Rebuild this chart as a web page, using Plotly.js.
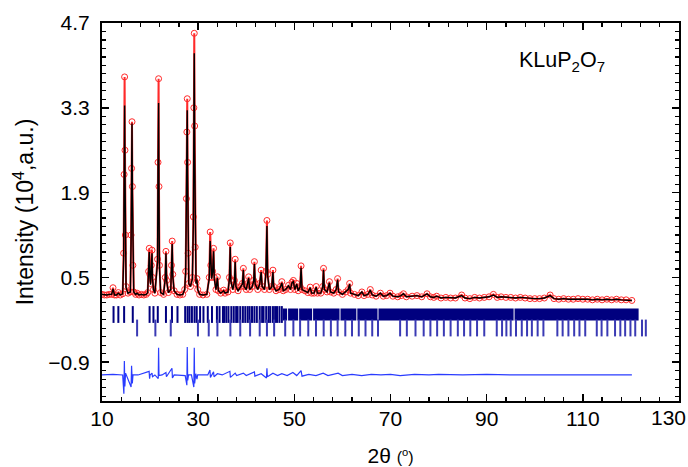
<!DOCTYPE html>
<html>
<head>
<meta charset="utf-8">
<script src="https://cdn.plot.ly/plotly-3.0.1.min.js"></script>
<style>html,body{margin:0;padding:0;background:#fff;}#chart{width:688px;height:467px;}</style>
</head>
<body>
<div id="chart"></div>
<script>
// 2-theta positions (degrees) of the observed pattern
var twoTheta = [
 10.0, 10.5, 11.0, 11.5, 12.0, 12.29, 12.6, 13.0, 13.4, 13.8,
 14.3, 14.5, 14.6, 14.7, 14.78, 14.86, 15.0, 15.4, 15.9, 16.05,
 16.15, 16.24, 16.32, 16.42, 16.6, 17.0, 17.3, 17.7, 18.2, 18.7,
 19.2, 19.5, 19.7, 19.83, 19.95, 20.1, 20.25, 20.4, 20.5, 20.7,
 21.0, 21.55, 21.65, 21.77, 21.85, 21.95, 22.2, 22.8, 23.15, 23.3,
 23.45, 23.8, 24.3, 24.45, 24.6, 24.72, 25.0, 25.6, 26.2, 26.8,
 27.2, 27.4, 27.55, 27.65, 27.73, 27.8, 27.9, 28.05, 28.4, 28.8,
 29.0, 29.1, 29.19, 29.27, 29.38, 29.55, 29.75, 29.9, 30.3, 31.0,
 31.8, 32.3, 32.5, 32.62, 32.8, 33.0, 33.2, 33.35, 33.7, 34.0,
 34.2, 34.7, 35.3, 35.6, 36.2, 36.5, 36.67, 36.8, 37.2, 37.55,
 37.7, 37.85, 38.3, 38.8, 39.2, 39.4, 39.55, 40.0, 40.3, 40.5,
 40.7, 41.2, 41.55, 41.7, 41.85, 42.4, 42.8, 43.1, 43.3, 43.8,
 44.1, 44.3, 44.45, 44.8, 45.3, 45.55, 45.7, 46.2, 46.8, 47.1,
 47.4, 47.7, 48.2, 48.8, 49.2, 49.5, 49.8, 50.1, 50.5, 50.8,
 51.2, 51.4, 51.6, 52.2, 52.8, 53.3, 53.6, 54.1, 54.55, 54.8,
 55.5, 55.9, 56.07, 56.25, 56.8, 57.3, 57.5, 58.2, 58.7, 59.0,
 59.2, 60.0, 60.7, 61.2, 61.5, 61.7, 62.5, 63.3, 64.05, 64.5,
 65.3, 65.8, 66.2, 67.0, 67.9, 68.5, 69.2, 69.9, 70.5, 71.5,
 72.2, 72.7, 73.3, 74.5, 75.5, 76.5, 77.6, 78.3, 79.0, 79.6,
 80.5, 81.5, 82.5, 83.5, 84.8, 85.5, 86.5, 87.5, 88.5, 89.5,
 90.5, 91.4, 92.2, 93.0, 94.0, 95.0, 96.0, 97.0, 98.0, 99.0,
 100.0, 101.0, 102.0, 103.2, 104.0, 105.0, 106.0, 107.0, 108.0, 109.0,
 110.0, 111.0, 112.0, 113.0, 114.0, 115.0, 116.0, 117.0, 118.0, 119.0,
 120.2
];
// observed intensity (10^4 a.u.)
var yObs = [
 .22,.21,.21,.22,.22,.33,.21,.21,.25,.21,
 .23,.90,2.20,3.81,2.60,1.20,.35,.24,.26,1.20,
 2.30,3.07,2.00,.70,.26,.22,.24,.21,.22,.21,
 .22,.25,.60,.98,.55,.40,.70,.95,.50,.30,
 .24,.80,2.40,3.78,2.00,.70,.25,.22,.50,.93,
 .45,.25,.30,.70,1.10,.55,.28,.22,.21,.22,
 .30,.60,1.80,2.90,3.45,2.40,.90,.40,.35,.50,
 1.50,3.30,4.53,3.00,1.00,.40,.48,.30,.22,.21,
 .22,.50,1.25,.70,.50,.60,.98,.50,.30,.51,
 .28,.24,.29,.24,.26,.50,1.07,.45,.30,.45,
 .80,.35,.28,.35,.40,.65,.35,.30,.40,.51,
 .30,.35,.45,.76,.40,.30,.40,.62,.35,.30,
 .60,1.44,.55,.30,.35,.62,.35,.28,.30,.35,
 .43,.28,.30,.37,.30,.42,.45,.30,.40,.28,
 .35,.69,.30,.28,.25,.34,.24,.24,.35,.24,
 .24,.35,.65,.30,.26,.43,.26,.24,.30,.48,
 .26,.22,.26,.30,.40,.24,.22,.20,.26,.20,
 .22,.30,.21,.19,.24,.19,.20,.24,.19,.18,
 .20,.23,.18,.19,.20,.18,.23,.18,.17,.19,
 .16,.17,.16,.16,.21,.16,.15,.17,.16,.17,
 .18,.22,.17,.18,.17,.17,.16,.17,.16,.15,
 .15,.15,.16,.21,.15,.14,.15,.14,.14,.15,
 .14,.14,.13,.14,.13,.14,.13,.14,.13,.13,
 .12
];
// calculated intensity (10^4 a.u.)
var yCalc = [
 .22,.21,.21,.22,.22,.31,.21,.21,.24,.21,
 .23,.80,2.00,3.34,2.30,1.00,.33,.24,.26,1.10,
 2.20,3.04,1.90,.65,.26,.22,.24,.21,.22,.21,
 .22,.25,.55,.92,.52,.38,.66,.90,.48,.30,
 .24,.75,2.20,3.38,1.80,.65,.25,.22,.48,.90,
 .44,.25,.30,.66,1.05,.52,.28,.22,.21,.22,
 .30,.58,1.70,2.70,3.26,2.20,.85,.40,.35,.48,
 1.40,3.00,4.20,2.60,.90,.40,.46,.30,.22,.21,
 .22,.48,1.10,.66,.48,.58,.93,.48,.30,.49,
 .28,.24,.28,.24,.26,.48,1.00,.44,.30,.44,
 .76,.35,.28,.34,.39,.62,.35,.30,.39,.49,
 .30,.34,.44,.72,.39,.30,.39,.59,.35,.30,
 .58,1.35,.53,.30,.34,.59,.35,.28,.30,.34,
 .41,.28,.30,.36,.30,.41,.43,.30,.39,.28,
 .34,.66,.30,.28,.25,.33,.24,.24,.34,.24,
 .24,.34,.62,.30,.26,.41,.26,.24,.30,.46,
 .26,.22,.26,.30,.39,.24,.22,.20,.26,.20,
 .22,.29,.21,.19,.24,.19,.20,.24,.19,.18,
 .20,.23,.18,.19,.20,.18,.23,.18,.17,.19,
 .16,.17,.16,.16,.20,.16,.15,.17,.16,.17,
 .18,.21,.17,.18,.17,.17,.16,.17,.16,.15,
 .15,.15,.16,.20,.15,.14,.15,.14,.14,.15,
 .14,.14,.13,.14,.13,.14,.13,.14,.13,.13,
 .12
];
// difference curve (offset)
var diffX = [10.0,12.29,14.3,14.55,14.65,14.75,14.9,15.1,16.05,16.15,16.3,16.45,17.5,19.8,19.9,20.0,20.4,20.5,21.0,21.7,21.77,21.85,22.5,23.3,23.4,24.55,24.65,25.0,27.3,27.65,27.73,27.82,28.0,28.6,29.1,29.19,29.27,29.5,29.75,29.9,32.0,32.45,32.55,33.2,33.3,34.0,35.0,36.6,36.7,37.7,38.0,39.4,40.0,41.7,41.8,43.1,44.2,44.3,44.4,45.0,45.55,46.5,47.4,48.5,49.7,50.5,51.4,51.6,53.0,54.5,56.0,57.0,59.1,60.0,62.0,64.0,66.0,68.0,70.0,72.0,75.0,78.0,80.0,85.0,90.0,95.0,100.0,105.0,110.0,115.0,120.2];
var diffY = [-1.11,-1.10,-1.11,-1.42,-0.88,-1.30,-1.08,-1.12,-1.31,-0.96,-1.25,-1.11,-1.11,-1.05,-1.17,-1.11,-1.08,-1.14,-1.11,-1.17,-0.66,-1.12,-1.11,-1.07,-1.14,-1.00,-1.16,-1.11,-1.12,-1.28,-0.65,-1.20,-1.11,-1.11,-1.31,-0.66,-1.25,-1.09,-1.18,-1.11,-1.11,-1.03,-1.15,-1.06,-1.14,-1.09,-1.11,-1.05,-1.15,-1.08,-1.12,-1.08,-1.12,-1.06,-1.13,-1.09,-1.16,-1.00,-1.14,-1.11,-1.08,-1.12,-1.09,-1.12,-1.07,-1.12,-1.04,-1.13,-1.10,-1.12,-1.08,-1.12,-1.08,-1.12,-1.10,-1.12,-1.10,-1.11,-1.10,-1.12,-1.10,-1.11,-1.10,-1.11,-1.10,-1.11,-1.11,-1.10,-1.11,-1.11,-1.11];
// Bragg reflection positions, phase row 1 (individual) and dense bands
var bragg1 = [12.4,13.4,14.6,16.4,19.9,20.7,21.6,23.3,24.55,25.7,27.3,27.8,28.2,28.7,29.25,29.7,30.4,31.1,32.0,32.87,33.9,34.45,35.15,35.4,35.85,36.3,36.9,37.4,37.9,38.2,38.75,39.3,39.8,40.3,40.7,41.2,41.7,42.2,42.8,43.3,43.6,44.15,44.65,45.0,45.55,46.0,46.4,46.9,47.4];
var bandStart = [47.6,48.7,51.0,53.9,59.6,63.1,67.5,95.8];
var bandEnd   = [48.5,50.8,53.7,59.4,62.9,67.3,95.6,121.6];
// Bragg reflection positions, row 2
var bragg2 = [17.3,21.1,24.3,29.95,32.2,34.0,36.7,38.75,40.8,42.8,44.3,45.8,48.1,49.8,51.2,52.9,54.5,56.1,57.6,59.0,60.6,62.0,63.4,64.8,66.2,67.4,72.0,73.4,75.2,76.9,78.3,79.7,81.1,82.5,84.0,85.3,86.6,88.0,89.5,92.1,93.2,94.1,95.0,96.1,97.3,98.4,99.4,100.6,101.8,104.7,105.8,107.0,108.2,109.3,110.5,112.9,113.9,115.1,116.7,117.8,118.8,119.9,120.9,122.3,123.1];
// axis ticks
var xTickVals = [10, 30, 50, 70, 90, 110, 130];
var xTickText = ['10', '30', '50', '70', '90', '110', '130'];

var ROW1 = -0.112, ROW2 = -0.335;
var bandX = [], bandY = [];
for (var i = 0; i < bandStart.length; i++) {
  bandX.push(bandStart[i], bandEnd[i], null);
  bandY.push(ROW1, ROW1, null);
}
var FONT = 'Liberation Sans, Arial, sans-serif';

var traces = [
  {x: twoTheta, y: yObs, type: 'scatter', mode: 'lines+markers',
   line: {color: '#ff2a2a', width: 2},
   marker: {symbol: 'circle-open', size: 6, color: '#ff2a2a', line: {width: 1}}},
  {x: twoTheta, y: yCalc, type: 'scatter', mode: 'lines',
   line: {color: '#000000', width: 1.4}},
  {x: diffX, y: diffY, type: 'scatter', mode: 'lines',
   line: {color: '#2a3cff', width: 1.2}},
  {x: bragg1, y: bragg1.map(function(){return ROW1;}), type: 'scatter', mode: 'markers',
   marker: {symbol: 'line-ns', size: 12, line: {color: '#00007f', width: 2}}},
  {x: bandX, y: bandY, type: 'scatter', mode: 'lines',
   line: {color: '#00007f', width: 12}},
  {x: bragg2, y: bragg2.map(function(){return ROW2;}), type: 'scatter', mode: 'markers',
   marker: {symbol: 'line-ns', size: 12, line: {color: '#3a3ab4', width: 2}}}
];

var axisCommon = {
  showline: true, linecolor: '#000', linewidth: 2, mirror: 'ticks',
  ticks: 'inside', ticklen: 7, tickwidth: 1.5, tickcolor: '#000',
  showgrid: false, zeroline: false,
  tickfont: {family: FONT, size: 21, color: '#000'}
};

// last x tick label sits at the right edge of the picture
var lastLabel = xTickText[xTickText.length - 1];
var shownText = xTickText.slice(0, -1).concat(['']);

var layout = {
  width: 688, height: 467,
  margin: {l: 102, r: 9, t: 23, b: 66},
  paper_bgcolor: '#fff', plot_bgcolor: '#fff',
  showlegend: false,
  font: {family: FONT, color: '#000'},
  xaxis: Object.assign({}, axisCommon, {
    range: [10, 130], tickmode: 'array', tickvals: xTickVals, ticktext: shownText,
    ticklabelstandoff: -2,
    minor: {dtick: 4, tick0: 10, ticks: 'inside', ticklen: 4, tickwidth: 1.2, tickcolor: '#000'},
    title: {text: '2θ <span style="font-size:16px">(<sup>o</sup>)</span>', font: {family: FONT, size: 21, color: '#000'}, standoff: 19}
  }),
  yaxis: Object.assign({}, axisCommon, {
    range: [-1.54, 4.7], tickmode: 'linear', tick0: -0.9, dtick: 1.4,
    ticklabelstandoff: 6,
    minor: {dtick: 0.14, tick0: -0.9, ticks: 'inside', ticklen: 4, tickwidth: 1.2, tickcolor: '#000'},
    title: {text: 'Intensity (10<sup>4</sup>,a.u.)', font: {family: FONT, size: 23, color: '#000'}, standoff: 8}
  }),
  annotations: [{
    xref: 'paper', yref: 'paper', x: 0.797, y: 0.899, xanchor: 'center', yanchor: 'middle',
    text: 'KLuP<sub>2</sub>O<sub>7</sub>', showarrow: false,
    font: {family: FONT, size: 21.5, color: '#000'}
  }, {
    xref: 'paper', yref: 'paper', x: 1, y: 0, xanchor: 'right', yanchor: 'middle',
    xshift: 9, yshift: -16, text: lastLabel, showarrow: false,
    font: {family: FONT, size: 21, color: '#000'}
  }]
};

Plotly.newPlot('chart', traces, layout, {displayModeBar: false, staticPlot: true});
</script>
</body>
</html>
